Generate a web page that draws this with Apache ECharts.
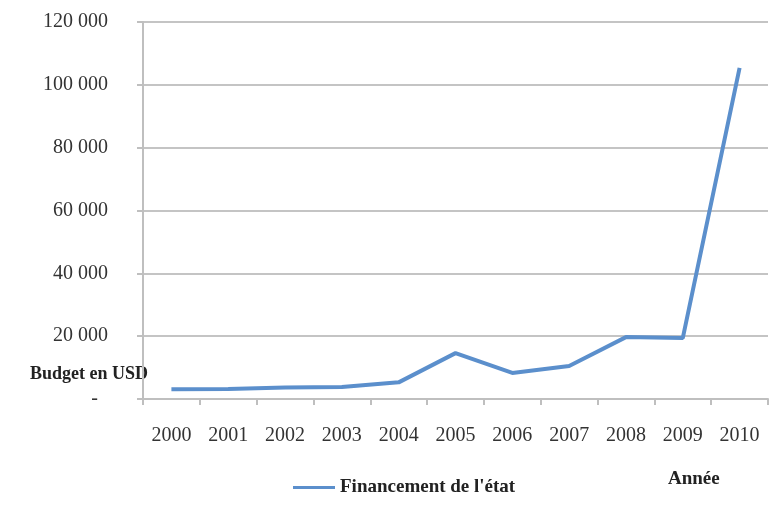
<!DOCTYPE html>
<html>
<head>
    <meta charset="UTF-8">
    <title>Financement de l'état</title>
    <script src="https://cdn.jsdelivr.net/npm/echarts@6/dist/echarts.min.js"></script>
    <style>
        html, body { margin: 0; padding: 0; background: #fff; }
        #main { width: 771px; height: 511px; }
    </style>
</head>
<body>
    <div id="main"></div>
    <script>
        var years = ['2000', '2001', '2002', '2003', '2004', '2005', '2006', '2007', '2008', '2009', '2010'];
        var financement = [3100, 3200, 3700, 3800, 5300, 14600, 8300, 10500, 19700, 19400, 105400];
        var yTicks = [0, 20000, 40000, 60000, 80000, 100000, 120000];

        var serif = '"Liberation Serif", "DejaVu Serif", serif';

        function formatY(v) {
            if (v === 0) return '-  ';
            return v.toString().replace(/\B(?=(\d{3})+(?!\d))/g, ' ');
        }

        var chart = echarts.init(document.getElementById('main'));
        var option = {
            animation: false,
            grid: { left: 143, right: 3, top: 22, bottom: 112, containLabel: false },
            legend: {
                left: 288,
                top: 473,
                icon: 'rect',
                itemWidth: 42,
                itemHeight: 3,
                itemGap: 4,
                textStyle: { fontFamily: serif, fontWeight: 'bold', fontSize: 19, color: '#222' },
                data: ['Financement de l\'état']
            },
            xAxis: {
                type: 'category',
                data: years,
                boundaryGap: true,
                axisLine: { lineStyle: { color: '#bfbfbf', width: 2 } },
                axisTick: { show: true, length: 6, lineStyle: { color: '#bfbfbf', width: 2 } },
                axisLabel: { margin: 27, fontFamily: serif, fontSize: 20, color: '#333' }
            },
            yAxis: {
                type: 'value',
                min: yTicks[0],
                max: yTicks[yTicks.length - 1],
                interval: 20000,
                axisLine: { show: true, lineStyle: { color: '#bfbfbf', width: 2 } },
                axisTick: { show: true, length: 6, lineStyle: { color: '#bfbfbf', width: 2 } },
                splitLine: { lineStyle: { color: '#c4c4c4', width: 2 } },
                axisLabel: { margin: 35, fontFamily: serif, fontSize: 20, color: '#333', formatter: formatY }
            },
            graphic: [
                {
                    type: 'text', left: 30, top: 365,
                    style: { text: 'Budget en USD', fontFamily: serif, fontWeight: 'bold', fontSize: 18, fill: '#222' }
                },
                {
                    type: 'text', left: 668, top: 470,
                    style: { text: 'Année', fontFamily: serif, fontWeight: 'bold', fontSize: 19, fill: '#222' }
                }
            ],
            series: [
                {
                    name: 'Financement de l\'état',
                    type: 'line',
                    data: financement,
                    symbol: 'none',
                    lineStyle: { color: '#5b8fcc', width: 4 },
                    itemStyle: { color: '#5b8fcc' }
                }
            ]
        };
        chart.setOption(option);
    </script>
</body>
</html>
